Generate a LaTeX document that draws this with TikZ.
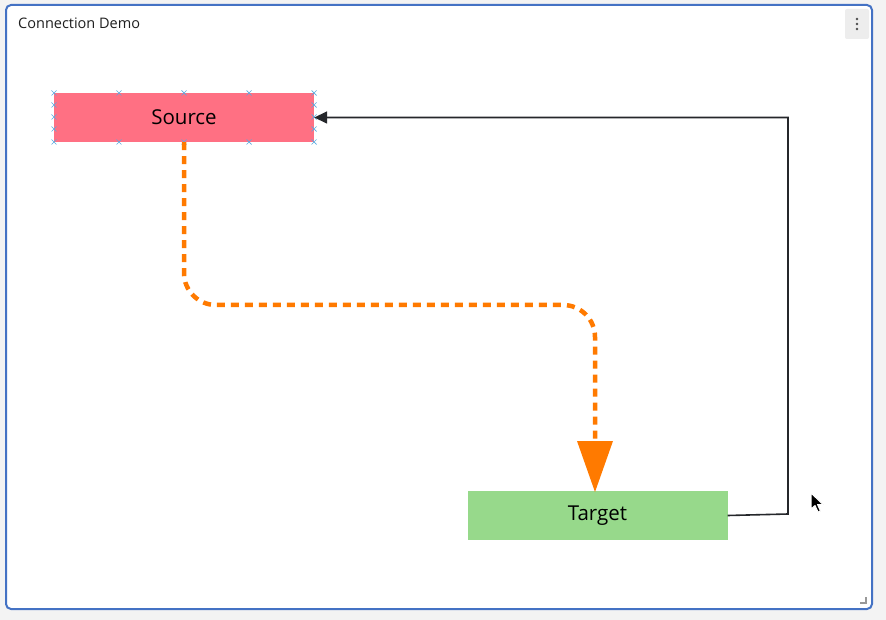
\documentclass[tikz,border=0pt]{standalone}
\usepackage{fontspec}
\setmainfont{Open Sans}
\usetikzlibrary{arrows.meta}
\definecolor{pagebg}{HTML}{F3F3F3}
\definecolor{panelblue}{HTML}{4472C4}
\definecolor{srcfill}{HTML}{FF7083}
\definecolor{tgtfill}{HTML}{97D98B}
\definecolor{orangeln}{HTML}{FF7A00}
\definecolor{darkln}{HTML}{25272B}
\definecolor{markblue}{HTML}{5AAAE0}
\definecolor{btngray}{HTML}{EDEDED}
\tikzset{
  boxnode/.style={minimum width=260pt, minimum height=49pt, inner sep=0pt, draw=none, font=\fontsize{20.5}{24}\selectfont, text=black},
  xmark/.style={markblue, line width=0.7pt},
  flowdash/.style={orangeln, line width=4.5pt, dash pattern=on 8pt off 6pt, rounded corners=32pt},
  backline/.style={darkln, line width=1.6pt},
}
\newcommand{\xm}[2]{\draw[xmark] (#1-2.5,#2-2.5) -- (#1+2.5,#2+2.5) (#1-2.5,#2+2.5) -- (#1+2.5,#2-2.5);}
\begin{document}
\begin{tikzpicture}[x=1pt,y=-1pt]
\useasboundingbox (0,0) rectangle (886,620);
\fill[pagebg] (0,0) rectangle (886,620);
\draw[panelblue, line width=2pt, fill=white, rounded corners=5pt] (6,5) rectangle (872,609);
\node[anchor=west, font=\fontsize{14.5}{17}\selectfont, text=black!88, inner sep=0pt] (title) at (18,23.5) {Connection Demo};
% menu button
\fill[btngray, rounded corners=2pt] (845,9) rectangle (869,39);
\foreach \yy in {19,24,29} \fill[black!70] (857,\yy) circle (1.3pt);
% resize handle
\draw[black!40, line width=1.2pt] (860,603) -- (866,603) -- (866,597);
% nodes
\node[boxnode, fill=srcfill] (src) at (184,117.5) {Source};
\node[boxnode, fill=tgtfill] (tgt) at (597.5,515.5) {Target};
% selection marks
\foreach \xx in {54,119,184,249,314} {\xm{\xx}{93} \xm{\xx}{142}}
\foreach \yy in {105,117,129} {\xm{54}{\yy} \xm{314}{\yy}}
% orange connector
\coordinate (tgtin) at (595,443);
\draw[flowdash] (src.south) -- (184,305) -- (595,305) -- (tgtin);
\fill[orangeln] (577,441) -- (613,441) -- (595,492) -- cycle;
% back connector
\coordinate (c1) at (788,514);
\coordinate (c2) at (788,117.5);
\draw[backline, -{Triangle[length=13pt,width=12pt]}] (tgt.east) -- (c1) -- (c2) -- (src.east);
% cursor
\draw[white, line width=1pt, fill=black, line join=round] (811,493) -- (811,509) -- (815,505.5) -- (818,512) -- (820.5,511) -- (817.5,504.5) -- (823,504.5) -- cycle;
\end{tikzpicture}
\end{document}
